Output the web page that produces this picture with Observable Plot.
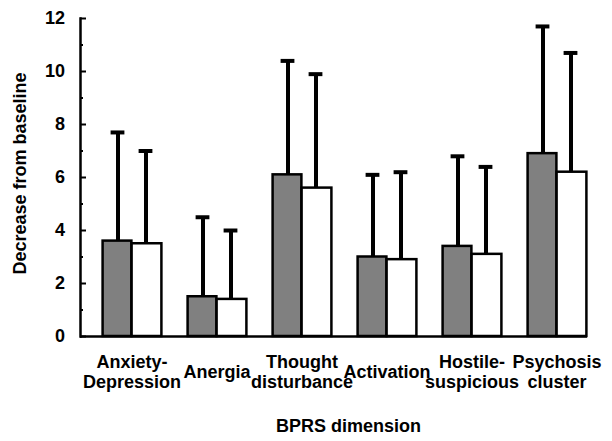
<!DOCTYPE html>
<html>
<head>
<meta charset="utf-8">
<script src="https://cdn.jsdelivr.net/npm/d3@7"></script>
<script src="https://cdn.jsdelivr.net/npm/@observablehq/plot@0.6"></script>
<style>
  html, body { margin: 0; padding: 0; background: #fff; }
  #chart svg { display: block; }
</style>
</head>
<body>
<div id="chart"></div>
<script>
// ---- data ----
const categories = ["Anxiety-\nDepression", "Anergia", "Thought\ndisturbance", "Activation", "Hostile-\nsuspicious", "Psychosis\ncluster"];
const meanGray = [3.6, 1.5, 6.1, 3.0, 3.4, 6.9];
const meanWhite = [3.5, 1.4, 5.6, 2.9, 3.1, 6.2];
const upperGray = [7.7, 4.5, 10.4, 6.1, 6.8, 11.7];
const upperWhite = [7.0, 4.0, 9.9, 6.2, 6.4, 10.7];
const yTicks = [0, 2, 4, 6, 8, 10, 12];
const yMinorTicks = [1, 3, 5, 7, 9, 11];
const yTitle = "Decrease from baseline";
const xTitle = "BPRS dimension";

const rowsGray = categories.map((c, i) => ({category: c, value: meanGray[i], upper: upperGray[i]}));
const rowsWhite = categories.map((c, i) => ({category: c, value: meanWhite[i], upper: upperWhite[i]}));

// ---- layout ----
const W = 612, H = 441;
const mL = 80, mR = 25, mT = 18, mB = 105;
const xRange = [88.4, 599.6];
const half = (xRange[1] - xRange[0]) / categories.length / 2; // half band
const barW = 29;
const capW = 14;
const frameW = W - mL - mR;
const font = "'Liberation Sans', Arial, sans-serif";

const chart = Plot.plot({
  width: W,
  height: H,
  marginLeft: mL,
  marginRight: mR,
  marginTop: mT,
  marginBottom: mB,
  style: {fontFamily: font, fontWeight: "bold", fontSize: "18px", color: "black", background: "white"},
  x: {type: "band", domain: categories, range: xRange, padding: 0, axis: null},
  y: {domain: [0, 12], axis: null},
  marks: [
    // bars
    Plot.barY(rowsGray, {x: "category", y: "value", fill: "#808080", stroke: "black", strokeWidth: 2.5,
      insetLeft: half - barW, insetRight: half}),
    Plot.barY(rowsWhite, {x: "category", y: "value", fill: "white", stroke: "black", strokeWidth: 2.5,
      insetLeft: half, insetRight: half - barW - 1}),
    // error bars
    Plot.ruleX(rowsGray, {x: "category", y1: "value", y2: "upper", dx: -14, stroke: "black", strokeWidth: 4}),
    Plot.ruleX(rowsWhite, {x: "category", y1: "value", y2: "upper", dx: 14, stroke: "black", strokeWidth: 4}),
    Plot.tickY(rowsGray, {x: "category", y: "upper", dx: -14, inset: half - capW / 2, stroke: "black", strokeWidth: 4}),
    Plot.tickY(rowsWhite, {x: "category", y: "upper", dx: 14, inset: half - capW / 2, stroke: "black", strokeWidth: 4}),
    // axes lines
    Plot.ruleY([0], {stroke: "black", strokeWidth: 2.5}),
    Plot.frame({anchor: "left", stroke: "black", strokeWidth: 2.5}),
    // y ticks (inward)
    Plot.tickY(yTicks, {y: d => d, insetLeft: 0, insetRight: frameW - 6, stroke: "black", strokeWidth: 2}),
    Plot.tickY(yMinorTicks, {y: d => d, insetLeft: 0, insetRight: frameW - 3, stroke: "black", strokeWidth: 2}),
    Plot.text(yTicks, {y: d => d, text: d => String(d), frameAnchor: "left", textAnchor: "end", dx: -15.5,
      fontSize: 18, fontWeight: "bold", fill: "black"}),
    // category labels
    Plot.text(categories, {x: d => d, text: d => d, frameAnchor: "bottom", lineAnchor: "middle", dy: 35,
      lineHeight: 1.1, fontSize: 18, fontWeight: "bold", fill: "black"}),
    // titles
    Plot.text([yTitle], {text: d => d, frameAnchor: "left", textAnchor: "middle", lineAnchor: "middle",
      rotate: -90, dx: -60, dy: -4, fontSize: 18, fontWeight: "bold", fill: "black"}),
    Plot.text([xTitle], {text: d => d, frameAnchor: "bottom", textAnchor: "middle", dy: 95, dx: 14.5,
      fontSize: 18, fontWeight: "bold", fill: "black"})
  ]
});
document.getElementById("chart").appendChild(chart);
</script>
</body>
</html>
